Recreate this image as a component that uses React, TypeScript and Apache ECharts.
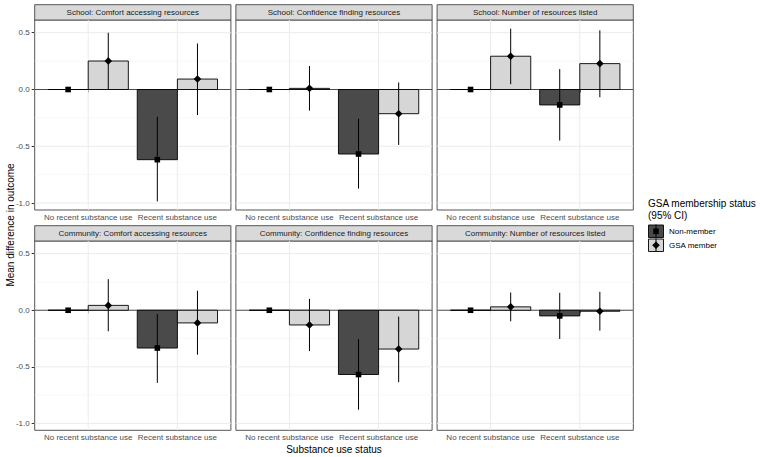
import React, { useEffect, useRef } from "react";
import * as echarts from "echarts";

const FONT = '"Liberation Sans", Arial, Helvetica, sans-serif';

const panelTitles = [
  "School: Comfort accessing resources",
  "School: Confidence finding resources",
  "School: Number of resources listed",
  "Community: Comfort accessing resources",
  "Community: Confidence finding resources",
  "Community: Number of resources listed",
];
const categories = ["No recent substance use", "Recent substance use"];
const groupNames = ["Non-member", "GSA member"];

// per panel: [No recent, Recent]
const nonMemberEst = [[0, -0.618], [0, -0.568], [0, -0.136], [0, -0.334], [0, -0.568], [0, -0.05]];
const nonMemberLow = [[0, -0.985], [0, -0.873], [0, -0.45], [0, -0.642], [0, -0.879], [0, -0.254]];
const nonMemberHigh = [[0, -0.24], [0, -0.257], [0, 0.18], [0, -0.033], [0, -0.254], [0, 0.154]];
const gsaEst = [[0.251, 0.092], [0.01, -0.213], [0.293, 0.228], [0.043, -0.112], [-0.13, -0.343], [0.03, -0.009]];
const gsaLow = [[0.0, -0.225], [-0.186, -0.488], [0.047, -0.068], [-0.186, -0.393], [-0.361, -0.636], [-0.098, -0.18]];
const gsaHigh = [[0.5, 0.405], [0.207, 0.062], [0.536, 0.521], [0.275, 0.172], [0.1, -0.056], [0.157, 0.163]];

const yTicks = [-1, -0.5, 0, 0.5];
const yMinorTicks = [-0.75, -0.25, 0.25];
const xPositions = [1, 2];

const DARK = "#4a4a4a";
const LIGHT = "#d6d6d6";

export default function App() {
  const ref = useRef<HTMLDivElement>(null);
  useEffect(() => {
    document.body.style.margin = "0";
    if (!ref.current) return;
    const chart = echarts.init(ref.current, undefined, { renderer: "svg" });

    const allVals = [
      ...nonMemberLow.flat(), ...nonMemberHigh.flat(), ...nonMemberEst.flat(),
      ...gsaLow.flat(), ...gsaHigh.flat(), ...gsaEst.flat(),
    ];
    const dMin = Math.min(...allVals);
    const dMax = Math.max(...allVals);
    const span = dMax - dMin;
    const yMin = dMin - 0.05 * span;
    const yMax = dMax + 0.05 * span;

    const colLeft = [34.7, 235.9, 437.1];
    const colWidth = 196.2;
    const rowTop = [20, 241];
    const rowHeight = [190, 189.3];
    const stripTop = [4.7, 225.7];
    const stripH = 15.3;

    const grids: any[] = [];
    const xAxes: any[] = [];
    const yAxes: any[] = [];
    const series: any[] = [];
    const graphics: any[] = [];

    for (let i = 0; i < 6; i++) {
      const c = i % 3;
      const r = Math.floor(i / 3);
      grids.push({
        left: colLeft[c], top: rowTop[r], width: colWidth, height: rowHeight[r],
        show: true, borderColor: "#555555", borderWidth: 1, backgroundColor: "#ffffff",
        containLabel: false,
      });
      xAxes.push({
        type: "value", gridIndex: i, min: 0.4, max: 2.6,
        axisLine: { show: false },
        splitLine: { show: false },
        axisTick: { show: true, customValues: xPositions, length: 3, lineStyle: { color: "#333333", width: 1 } },
        axisLabel: {
          show: true, customValues: xPositions, margin: 3,
          formatter: (v: number) => categories[Math.round(v) - 1] ?? "",
          color: "#4d4d4d", fontSize: 8, fontFamily: FONT,
        },
      });
      yAxes.push({
        type: "value", gridIndex: i, min: yMin, max: yMax,
        axisLine: { show: false },
        splitLine: { show: false },
        axisTick: { show: c === 0, customValues: yTicks, length: 3, lineStyle: { color: "#333333", width: 1 } },
        axisLabel: {
          show: c === 0, customValues: yTicks, margin: 5,
          formatter: (v: number) => v.toFixed(1),
          color: "#4d4d4d", fontSize: 8, fontFamily: FONT,
        },
      });

      // grid lines
      const gridData: number[][] = [
        ...yMinorTicks.map((v) => [0, v, 0]),
        ...yTicks.map((v) => [0, v, 1]),
        ...xPositions.map((v) => [1, v, 1]),
      ];
      series.push({
        type: "custom", xAxisIndex: i, yAxisIndex: i, silent: true, z: 1,
        data: gridData,
        renderItem: (params: any, api: any) => {
          const kind = api.value(0);
          const v = api.value(1);
          const major = api.value(2);
          const cs = params.coordSys;
          const stroke = major ? "#ebebeb" : "#f5f5f5";
          const lw = major ? 1 : 0.7;
          if (kind === 0) {
            const y = api.coord([1, v])[1];
            return { type: "line", shape: { x1: cs.x, y1: y, x2: cs.x + cs.width, y2: y }, style: { stroke, lineWidth: lw } };
          }
          const x = api.coord([v, 0])[0];
          return { type: "line", shape: { x1: x, y1: cs.y, x2: x, y2: cs.y + cs.height }, style: { stroke, lineWidth: lw } };
        },
      });

      // zero reference line
      series.push({
        type: "custom", xAxisIndex: i, yAxisIndex: i, silent: true, z: 2,
        data: [[0]],
        renderItem: (params: any, api: any) => {
          const cs = params.coordSys;
          const y = api.coord([1, api.value(0)])[1];
          return { type: "line", shape: { x1: cs.x, y1: y, x2: cs.x + cs.width, y2: y }, style: { stroke: "#222222", lineWidth: 0.8 } };
        },
      });

      // bars + CIs + points
      const markData: number[][] = [];
      for (let j = 0; j < 2; j++) {
        markData.push([j + 1, 0, nonMemberEst[i][j], nonMemberLow[i][j], nonMemberHigh[i][j]]);
        markData.push([j + 1, 1, gsaEst[i][j], gsaLow[i][j], gsaHigh[i][j]]);
      }
      series.push({
        type: "custom", xAxisIndex: i, yAxisIndex: i, silent: true, z: 3,
        data: markData,
        renderItem: (params: any, api: any) => {
          const cat = api.value(0);
          const g = api.value(1);
          const est = api.value(2);
          const lo = api.value(3);
          const hi = api.value(4);
          const xc = cat + (g === 0 ? -0.225 : 0.225);
          const a = api.coord([xc - 0.225, 0]);
          const b = api.coord([xc + 0.225, est]);
          const p = api.coord([xc, est]);
          const pl = api.coord([xc, lo]);
          const ph = api.coord([xc, hi]);
          const children: any[] = [
            {
              type: "polygon",
              shape: { points: [[a[0], a[1]], [b[0], a[1]], [b[0], b[1]], [a[0], b[1]]] },
              style: { fill: g === 0 ? DARK : LIGHT, stroke: "#000000", lineWidth: 0.9 },
            },
            {
              type: "line",
              shape: { x1: pl[0], y1: pl[1], x2: ph[0], y2: ph[1] },
              style: { stroke: "#000000", lineWidth: 1 },
            },
          ];
          if (g === 0) {
            children.push({ type: "rect", shape: { x: p[0] - 2.8, y: p[1] - 2.8, width: 5.6, height: 5.6 }, style: { fill: "#000000" } });
          } else {
            const d = 3.8;
            children.push({
              type: "polygon",
              shape: { points: [[p[0], p[1] - d], [p[0] + d, p[1]], [p[0], p[1] + d], [p[0] - d, p[1]]] },
              style: { fill: "#000000" },
            });
          }
          return { type: "group", children };
        },
      });

      // strip
      graphics.push({
        type: "rect",
        shape: { x: colLeft[c], y: stripTop[r], width: colWidth, height: stripH },
        style: { fill: "#d9d9d9", stroke: "#555555", lineWidth: 1 },
        silent: true,
      });
      graphics.push({
        type: "text",
        x: colLeft[c] + colWidth / 2,
        y: stripTop[r] + stripH / 2 + 0.5,
        style: {
          text: panelTitles[i], fill: "#1a1a1a", fontSize: 8, fontFamily: FONT,
          textAlign: "center", textVerticalAlign: "middle",
        },
        silent: true,
      });
    }

    // axis titles
    graphics.push({
      type: "text", x: 10, y: 225, rotation: Math.PI / 2,
      style: { text: "Mean difference in outcome", fill: "#000000", fontSize: 10, fontFamily: FONT, textAlign: "center", textVerticalAlign: "middle" },
      silent: true,
    });
    graphics.push({
      type: "text", x: 334, y: 449,
      style: { text: "Substance use status", fill: "#000000", fontSize: 10, fontFamily: FONT, textAlign: "center", textVerticalAlign: "middle" },
      silent: true,
    });

    // legend
    graphics.push({
      type: "text", x: 648, y: 203,
      style: { text: "GSA membership status", fill: "#000000", fontSize: 10, fontFamily: FONT, textAlign: "left", textVerticalAlign: "middle" },
      silent: true,
    });
    graphics.push({
      type: "text", x: 648, y: 215,
      style: { text: "(95% CI)", fill: "#000000", fontSize: 10, fontFamily: FONT, textAlign: "left", textVerticalAlign: "middle" },
      silent: true,
    });
    const keyX = 648;
    const keyW = 16;
    const keyH = 13.5;
    const keyY = [224.5, 238.5];
    for (let g = 0; g < 2; g++) {
      const cx = keyX + keyW / 2;
      const cy = keyY[g] + keyH / 2;
      graphics.push({
        type: "rect", shape: { x: keyX + 0.5, y: keyY[g] + 0.5, width: keyW - 1, height: keyH - 1 },
        style: { fill: g === 0 ? DARK : LIGHT, stroke: "#000000", lineWidth: 0.9 }, silent: true,
      });
      graphics.push({
        type: "line", shape: { x1: cx, y1: keyY[g], x2: cx, y2: keyY[g] + keyH },
        style: { stroke: "#000000", lineWidth: 1 }, silent: true,
      });
      if (g === 0) {
        graphics.push({ type: "rect", shape: { x: cx - 2.8, y: cy - 2.8, width: 5.6, height: 5.6 }, style: { fill: "#000000" }, silent: true });
      } else {
        graphics.push({
          type: "polygon",
          shape: { points: [[cx, cy - 3.8], [cx + 3.8, cy], [cx, cy + 3.8], [cx - 3.8, cy]] },
          style: { fill: "#000000" }, silent: true,
        });
      }
      graphics.push({
        type: "text", x: 669, y: cy,
        style: { text: groupNames[g], fill: "#000000", fontSize: 8, fontFamily: FONT, textAlign: "left", textVerticalAlign: "middle" },
        silent: true,
      });
    }

    chart.setOption({
      animation: false,
      backgroundColor: "#ffffff",
      textStyle: { fontFamily: FONT },
      grid: grids,
      xAxis: xAxes,
      yAxis: yAxes,
      series,
      graphic: graphics,
    });
    return () => chart.dispose();
  }, []);
  return <div ref={ref} style={{ width: 760, height: 457 }} />;
}
